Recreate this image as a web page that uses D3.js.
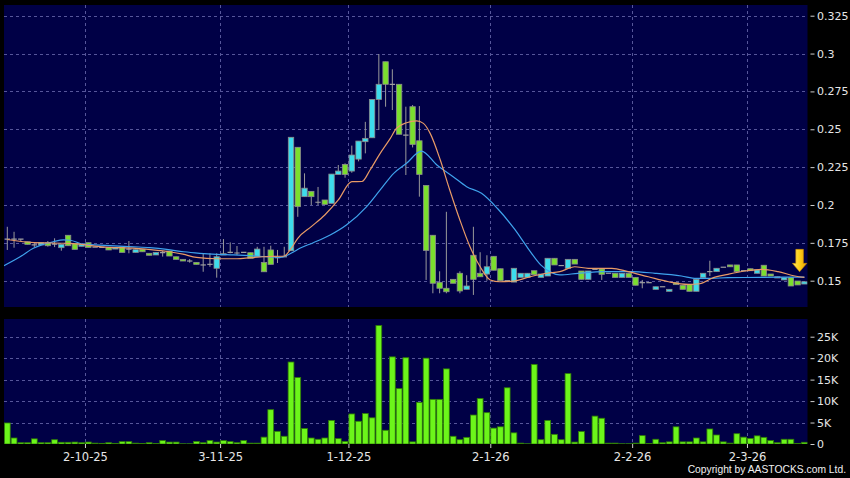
<!DOCTYPE html>
<html>
<head>
<meta charset="utf-8">
<script src="https://cdn.jsdelivr.net/npm/d3@7"></script>
<style>
body { margin: 0; background: #000; }
svg { display: block; }
</style>
</head>
<body>
<svg id="chart" width="850" height="478"></svg>
<script>
// daily candles, one per trading day (index 0 = mid Sep 2025, 118 = 12 Mar 2026)
const openP = [
  .1775, .1775, .1775, .1757, .1736, .1736, .1751, .1742, .1718, .1800,
  .1744, .1727, .1751, .1722, .1720, .1720, .1709, .1722, .1709, .1687,
  .1707, .1681, .1670, .1685, .1696, .1658, .1641, .1630, .1621, .1604,
  .1608, .1582, .1670, .1687, .1683, .1687, .1685, .1658, .1621, .1703,
  .1652, .1658, .1698, .2381, .2055, .2090, .2018, .2033, .2011, .2202,
  .2268, .2224, .2303, .2418, .2444, .2697, .2946, .2797, .2797, .2462,
  .2649, .2424, .2129, .1800, .1489, .1450, .1509, .1549, .1443, .1668,
  .1549, .1544, .1661, .1579, .1500, .1491, .1522, .1522, .1566, .1522,
  .1531, .1648, .1600, .1582, .1641, .1564, .1509, .1575, .1577, .1549,
  .1549, .1522, .1549, .1522, .1487, .1487, .1443, .1460, .1430, .1487,
  .1470, .1476, .1430, .1522, .1560, .1560, .1589, .1604, .1604, .1566,
  .1579, .1549, .1602, .1544, .1518, .1505, .1520, .1498, .1478
];
const closeP = [
  .1775, .1775, .1775, .1740, .1736, .1751, .1731, .1742, .1740, .1731,
  .1707, .1740, .1720, .1722, .1720, .1703, .1718, .1687, .1709, .1705,
  .1691, .1668, .1687, .1685, .1663, .1641, .1630, .1630, .1608, .1604,
  .1608, .1658, .1678, .1687, .1683, .1687, .1648, .1709, .1559, .1608,
  .1652, .1658, .2447, .1989, .2111, .2055, .2018, .2004, .2204, .2224,
  .2202, .2330, .2422, .2440, .2697, .2797, .2797, .2797, .2467, .2462,
  .2400, .2202, .1700, .1483, .1450, .1427, .1483, .1432, .1465, .1509,
  .1526, .1592, .1569, .1500, .1500, .1582, .1549, .1549, .1540, .1544,
  .1648, .1604, .1600, .1641, .1610, .1509, .1564, .1575, .1542, .1549,
  .1522, .1549, .1522, .1470, .1487, .1487, .1460, .1460, .1443, .1474,
  .1443, .1430, .1509, .1549, .1560, .1582, .1589, .1592, .1560, .1566,
  .1566, .1571, .1531, .1531, .1526, .1520, .1465, .1472, .1493
];
// null = no wick beyond the body
const highP = [
  .1856, .1823, null, null, .1747, null, .1762, .1780, null, null,
  null, null, null, null, null, null, null, null, .1762, null,
  null, null, null, .1696, null, null, null, .1643, null, .1681,
  .1681, .1681, .1775, .1753, .1729, null, null, .1724, .1724, .1731,
  .1703, .1724, null, null, .2209, null, .2119, null, null, .2264,
  .2275, .2392, null, .2549, null, .2997, null, .2896, null, .2649,
  .2660, .2653, null, null, .1562, .1955, null, .1562, .1536, .1856,
  .1688, .1668, null, null, null, null, null, null, null, null,
  null, null, null, null, null, null, null, null, null, null,
  null, null, null, null, .1505, null, null, null, null, null,
  null, null, null, null, .1632, null, null, null, null, null,
  null, null, null, null, null, null, null, null, null
];
const lowP = [
  .1703, .1718, .1762, null, .1722, null, .1725, .1722, .1698, null,
  null, null, null, null, null, null, null, null, .1681, null,
  null, null, null, .1659, null, null, null, .1619, null, .1559,
  .1592, .1520, null, .1681, .1670, null, null, null, null, null,
  .1617, null, null, .1922, null, .2000, .2000, null, null, null,
  .2180, .2213, .2288, .2341, null, .2495, .2649, .2627, null, .2198,
  .2380, .2055, .1505, .1417, .1417, .1417, null, .1417, null, .1406,
  null, .1500, null, null, null, null, null, null, null, null,
  null, null, null, null, null, null, null, null, .1505, null,
  null, null, null, null, .1450, null, null, null, null, null,
  null, null, null, null, .1531, null, null, null, null, null,
  null, null, null, null, null, null, null, null, null
];
// volume, thousands of shares
const volK = [
  4.9, 1.4, 0.3, 0.3, 1.2, 0.3, 0.3, 1.0, 0.4, 0.4,
  0.45, 0.3, 0.45, 0.2, 0.15, 0.3, 0.15, 0.55, 0.55, 0.2,
  0.1, 0.3, 0.1, 0.8, 0.45, 0.45, 0.05, 0.05, 0.6, 0.3,
  0.8, 0.45, 0.8, 0.55, 0.3, 0.8, 0.2, 0.2, 1.6, 8.0,
  2.95, 1.8, 19.1, 15.5, 3.6, 1.4, 1.1, 1.4, 5.5, 1.25,
  0.6, 7.0, 5.3, 7.1, 6.1, 27.6, 3.2, 20.3, 12.9, 20.1,
  0.5, 9.7, 20.0, 10.4, 10.4, 17.5, 1.8, 1.0, 1.55, 6.75,
  10.6, 7.3, 3.7, 4.0, 13.1, 2.6, 0.2, 0.05, 18.55, 1.0,
  5.5, 2.25, 1.0, 16.4, 0.45, 2.9, 0.2, 6.5, 6.0, 0.2,
  0.2, 0.05, 0.05, 0.2, 1.95, 0.1, 1.1, 0.3, 0.5, 4.0,
  0.5, 0.5, 1.4, 0.5, 3.5, 2.1, 0.5, 0.2, 2.4, 1.6,
  1.3, 1.9, 1.55, 0.8, 0.3, 1.1, 1.1, 0.15, 0.4
];
// moving averages: [day index, price]
const maFast = [
  [0, .1772], [4, .1751], [9, .1747], [11, .1740], [14, .1724], [19, .1714],
  [24, .1691], [26, .1675], [28, .1654], [31, .1645], [34, .1645], [36, .1652],
  [38, .1658], [41, .1663], [42, .1712], [43, .1780], [45, .1857], [47, .1934],
  [49, .2033], [51, .2154], [52.5, .2155], [53.7, .2231], [55.2, .2341], [56.7, .2440],
  [57.6, .2506], [59.1, .2543], [60.6, .2556], [61.6, .2539], [62.6, .2473], [64.1, .2297],
  [65.5, .2099], [67, .1901], [68.5, .1724], [70, .1592], [71.5, .1505], [72.9, .1493],
  [74.9, .1497], [77.4, .1526], [79.9, .1549], [81.8, .1560], [84, .1592], [86, .1582],
  [89.5, .1582], [91.9, .1560], [94.9, .1526], [97.9, .1493], [100.8, .1476], [102.5, .1480],
  [104.3, .1516], [106.7, .1542], [109.2, .1564], [111.7, .1575], [114.1, .1560], [116.6, .1531],
  [118, .1522]
];
const maSlow = [
  [-0.5, .1599], [1.9, .1658], [3.85, .1714], [5.3, .1740], [6.8, .1757], [8.3, .1769],
  [9.3, .1767], [11.3, .1740], [13.7, .1735], [18.7, .1724], [21.1, .1718], [23.6, .1707],
  [26.1, .1691], [28.5, .1681], [31, .1674], [33.5, .1670], [35.9, .1665], [38.4, .1658],
  [40.4, .1654], [42, .1681], [43.3, .1714], [45.3, .1751], [47.8, .1802], [50.2, .1868],
  [53.2, .1989], [55.2, .2099], [57.2, .2209], [59.1, .2275], [61.3, .2356], [63.6, .2264],
  [66, .2187], [68, .2121], [70.2, .2077], [72.6, .1975], [75.1, .1840], [77, .1719],
  [79, .1603], [80.5, .1555], [81.8, .1538], [84.5, .1549], [88.5, .1560], [92.4, .1560],
  [95.9, .1549], [99.8, .1531], [102, .1515], [104.3, .1516], [106.7, .1520], [111.7, .1522],
  [118, .1524]
];

const monthIdx = [12, 32, 51, 72, 93, 110]; // first trading day of each month
const monthLabels = ["2-10-25", "3-11-25", "1-12-25", "2-1-26", "2-2-26", "2-3-26"];
const priceTicks = [0.15, 0.175, 0.2, 0.225, 0.25, 0.275, 0.3, 0.325];
const volTicks = [0, 5, 10, 15, 20, 25];

const svg = d3.select("#chart");
const navy = "#000046";
const gridColor = "#56569a";
const upColor = "#3ddcec";
const downColor = "#7bde2e";
const font = "DejaVu Sans, Verdana, sans-serif";

const plotL = 4, plotR = 807.5;
const priceTop = 5, priceBot = 307;
const volTop = 319, volBot = 444;

const xS = d3.scaleLinear().domain([0, 118]).range([7.3, 804.4]);
const yP = d3.scaleLinear().domain([0.15, 0.325]).range([280.7, 15.7]);
const yV = d3.scaleLinear().domain([0, 25]).range([444, 336.7]);

svg.append("rect").attr("width", 850).attr("height", 478).attr("fill", "#000");

const defs = svg.append("defs");
defs.append("clipPath").attr("id", "clipPrice")
    .append("rect")
    .attr("x", plotL).attr("y", priceTop)
    .attr("width", plotR - plotL).attr("height", priceBot - priceTop);
defs.append("clipPath").attr("id", "clipVol")
    .append("rect")
    .attr("x", plotL).attr("y", volTop)
    .attr("width", plotR - plotL).attr("height", volBot - volTop);

const grad = defs.append("linearGradient").attr("id", "arrowGrad")
    .attr("x1", 0).attr("y1", 0).attr("x2", 1).attr("y2", 0);
grad.append("stop").attr("offset", "0%").attr("stop-color", "#ffe66a");
grad.append("stop").attr("offset", "45%").attr("stop-color", "#ffd21a");
grad.append("stop").attr("offset", "100%").attr("stop-color", "#e8a000");

// panels
svg.append("rect")
    .attr("x", plotL).attr("y", priceTop)
    .attr("width", plotR - plotL).attr("height", priceBot - priceTop)
    .attr("fill", navy);
svg.append("rect")
    .attr("x", plotL).attr("y", volTop)
    .attr("width", plotR - plotL).attr("height", volBot - volTop)
    .attr("fill", navy);

// grid lines
const grid = svg.append("g")
    .attr("stroke", gridColor)
    .attr("stroke-width", 1)
    .attr("stroke-dasharray", "3,3")
    .attr("shape-rendering", "crispEdges");

grid.selectAll(".hp")
    .data(priceTicks)
    .enter().append("line")
    .attr("x1", plotL).attr("x2", plotR)
    .attr("y1", d => Math.round(yP(d)) + 0.5)
    .attr("y2", d => Math.round(yP(d)) + 0.5);

grid.selectAll(".hv")
    .data(volTicks.filter(d => d > 0))
    .enter().append("line")
    .attr("x1", plotL).attr("x2", plotR)
    .attr("y1", d => Math.round(yV(d)) + 0.5)
    .attr("y2", d => Math.round(yV(d)) + 0.5);

monthIdx.forEach(m => {
    const gx = Math.round(xS(m - 0.5)) + 0.5;
    grid.append("line").attr("x1", gx).attr("x2", gx).attr("y1", priceTop).attr("y2", priceBot);
    grid.append("line").attr("x1", gx).attr("x2", gx).attr("y1", volTop).attr("y2", volBot);
});

// candles
const candles = openP.map((o, i) => ({
    i: i,
    open: o,
    close: closeP[i],
    high: highP[i] != null ? highP[i] : Math.max(o, closeP[i]),
    low: lowP[i] != null ? lowP[i] : Math.min(o, closeP[i])
}));

const candleG = svg.append("g").attr("clip-path", "url(#clipPrice)");
const bodyW = 5.4;

candleG.selectAll(".wick")
    .data(candles)
    .enter().append("line")
    .attr("x1", d => xS(d.i)).attr("x2", d => xS(d.i))
    .attr("y1", d => yP(d.high)).attr("y2", d => yP(d.low))
    .attr("stroke", "#9a9a9a")
    .attr("stroke-width", 1);

candleG.selectAll(".body")
    .data(candles.filter(d => d.open !== d.close))
    .enter().append("rect")
    .attr("x", d => xS(d.i) - bodyW / 2)
    .attr("width", bodyW)
    .attr("y", d => yP(Math.max(d.open, d.close)))
    .attr("height", d => Math.max(1, Math.abs(yP(d.open) - yP(d.close))))
    .attr("fill", d => d.close > d.open ? upColor : downColor)
    .attr("stroke", "#8c8c8c")
    .attr("stroke-width", 0.8);

candleG.selectAll(".doji")
    .data(candles.filter(d => d.open === d.close))
    .enter().append("line")
    .attr("x1", d => xS(d.i) - bodyW / 2)
    .attr("x2", d => xS(d.i) + bodyW / 2)
    .attr("y1", d => yP(d.close)).attr("y2", d => yP(d.close))
    .attr("stroke", "#a0a0a0")
    .attr("stroke-width", 1.2);

// moving averages
const maLine = d3.line()
    .x(d => xS(d[0]))
    .y(d => yP(d[1]))
    .curve(d3.curveMonotoneX);

candleG.append("path")
    .attr("d", maLine(maSlow))
    .attr("fill", "none")
    .attr("stroke", "#3fa2ec")
    .attr("stroke-width", 1.2);

candleG.append("path")
    .attr("d", maLine(maFast))
    .attr("fill", "none")
    .attr("stroke", "#e89a66")
    .attr("stroke-width", 1.2);

// yellow marker arrow over the latest day
const last = candles[candles.length - 1];
const ax = xS(last.i) - 4.8;
const ay = yP(last.high) - 10;
svg.append("path")
    .attr("d", `M${ax - 3.8},${ay - 22.4} L${ax + 3.8},${ay - 22.4} L${ax + 3.8},${ay - 8.4}
                L${ax + 7.2},${ay - 8.4} L${ax},${ay} L${ax - 7.2},${ay - 8.4}
                L${ax - 3.8},${ay - 8.4} Z`)
    .attr("fill", "url(#arrowGrad)")
    .attr("stroke", "#c98a00")
    .attr("stroke-width", 0.6);

// volume bars
const volG = svg.append("g").attr("clip-path", "url(#clipVol)");
const barW = 5.8;
volG.selectAll(".vol")
    .data(volK)
    .enter().append("rect")
    .attr("x", (d, i) => xS(i) - barW / 2)
    .attr("width", barW)
    .attr("y", d => yV(d))
    .attr("height", d => Math.max(0.6, yV(0) - yV(d)))
    .attr("fill", "#6cf51a")
    .attr("stroke", "#2f7d06")
    .attr("stroke-width", 0.8);

// axes
function styleAxis(g) {
    g.select(".domain").remove();
    g.attr("font-family", font).attr("font-size", 11).attr("color", "#e6e6e6");
    g.selectAll(".tick line").attr("stroke", "#cfcfcf");
}

svg.append("g")
    .attr("transform", "translate(810.5,0)")
    .call(d3.axisRight(yP)
        .tickValues(priceTicks)
        .tickSize(4)
        .tickPadding(2.5)
        .tickFormat(d => String(+d.toFixed(3))))
    .call(styleAxis);

svg.append("g")
    .attr("transform", "translate(810.5,0)")
    .call(d3.axisRight(yV)
        .tickValues(volTicks)
        .tickSize(4)
        .tickPadding(2.5)
        .tickFormat(d => d === 0 ? "0" : d + "K"))
    .call(styleAxis);

svg.append("g")
    .attr("transform", `translate(0,${volBot})`)
    .call(d3.axisBottom(xS)
        .tickValues(monthIdx.map(m => m - 0.5))
        .tickSize(4)
        .tickPadding(5)
        .tickFormat((d, k) => monthLabels[k]))
    .call(styleAxis)
    .call(g => g.attr("font-size", 11.5));

svg.append("text")
    .attr("x", 846)
    .attr("y", 473)
    .attr("text-anchor", "end")
    .attr("font-family", "Liberation Sans, Arial, sans-serif")
    .attr("font-size", 10.3)
    .attr("fill", "#f0f0f0")
    .text("Copyright by AASTOCKS.com Ltd.");
</script>
</body>
</html>
